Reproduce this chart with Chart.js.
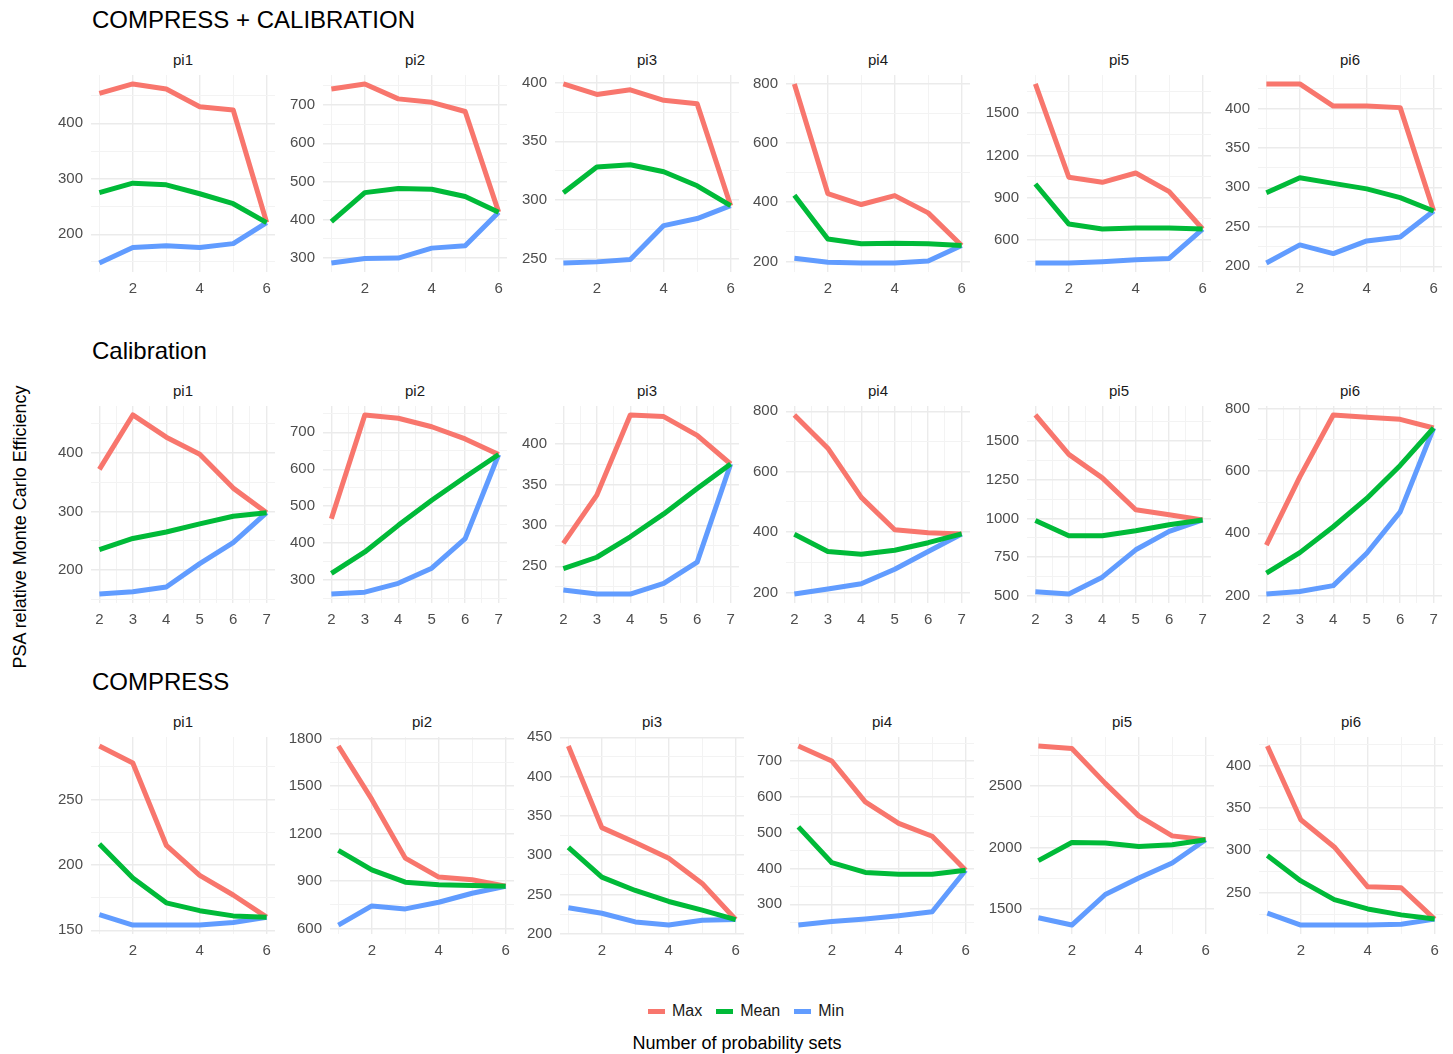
<!DOCTYPE html>
<html>
<head>
<meta charset="utf-8">
<script src="https://cdn.jsdelivr.net/npm/chart.js@4.4.0/dist/chart.umd.min.js"></script>
<style>
body { margin:0; background:#fff; font-family:"Liberation Sans", Arial, sans-serif; }
#page { position:relative; width:1453px; height:1054px; overflow:hidden; background:#fff; }
.rowTitle { position:absolute; left:92px; font-size:24px; line-height:28px; color:#000; white-space:nowrap; }
.strip { position:absolute; font-size:15px; line-height:18px; color:#1a1a1a; text-align:center; }
.panel { position:absolute; }
#ylab { position:absolute; left:20px; top:527px; font-size:18px; color:#000; white-space:nowrap;
        transform:translate(-50%,-50%) rotate(-90deg); }
#xlab { position:absolute; left:737px; top:1043px; font-size:18px; color:#000; white-space:nowrap;
        transform:translate(-50%,-50%); }
#legend { position:absolute; left:648px; top:1001px; height:20px; display:flex; align-items:center;
          font-size:16px; color:#1a1a1a; }
#legend .key { width:17px; height:5px; margin-right:7px; }
#legend .lbl { margin-right:14px; }
</style>
</head>
<body>
<div id="page">
  <div id="ylab">PSA relative Monte Carlo Efficiency</div>
  <div id="xlab">Number of probability sets</div>
  <div id="legend"></div>
</div>
<script>
// facets + rows
var panelNames = ['pi1', 'pi2', 'pi3', 'pi4', 'pi5', 'pi6'];
var rowTitles = ['COMPRESS + CALIBRATION', 'Calibration', 'COMPRESS'];
var seriesNames = ['Max', 'Mean', 'Min'];
var seriesColors = ['#F8766D', '#00BA38', '#619CFF'];

// number of probability sets (x)
var setsCompCal = [1, 2, 3, 4, 5, 6];
var setsCal = [2, 3, 4, 5, 6, 7];
var setsComp = [1, 2, 3, 4, 5, 6];

// COMPRESS + CALIBRATION, one array per panel pi1..pi6
var ccMax = [
  [454, 471, 462, 430, 424, 221],
  [742, 755, 716, 707, 683, 420],
  [399, 390, 394, 385, 382, 295],
  [798, 429, 392, 422, 364, 254],
  [1706, 1045, 1009, 1075, 943, 678],
  [431, 431, 403, 403, 401, 270]
];
var ccMean = [
  [275, 292, 289, 273, 255, 221],
  [395, 471, 482, 480, 461, 420],
  [306, 328, 330, 324, 312, 295],
  [423, 276, 260, 262, 260, 254],
  [997, 713, 678, 685, 685, 678],
  [293, 312, 305, 298, 287, 270]
];
var ccMin = [
  [148, 176, 179, 176, 183, 221],
  [287, 299, 300, 326, 332, 420],
  [246, 247, 249, 278, 284, 295],
  [211, 198, 195, 195, 202, 254],
  [437, 437, 446, 460, 470, 678],
  [204, 227, 216, 232, 237, 270]
];

// Calibration
var calMax = [
  [372, 465, 427, 398, 340, 298],
  [466, 747, 738, 715, 682, 640],
  [278, 337, 435, 433, 410, 375],
  [788, 678, 515, 408, 398, 394],
  [1669, 1414, 1262, 1056, 1024, 990],
  [362, 581, 780, 773, 766, 738]
];
var calMean = [
  [235, 254, 265, 279, 292, 298],
  [318, 376, 448, 516, 579, 640],
  [247, 261, 286, 314, 345, 375],
  [393, 336, 327, 340, 365, 394],
  [987, 888, 888, 920, 959, 990],
  [272, 338, 421, 512, 618, 738]
];
var calMin = [
  [159, 163, 171, 211, 247, 298],
  [262, 267, 291, 332, 412, 640],
  [221, 216, 216, 229, 255, 375],
  [195, 212, 229, 277, 336, 394],
  [526, 511, 620, 797, 916, 990],
  [205, 213, 232, 336, 469, 738]
];

// COMPRESS
var compMax = [
  [291, 278, 215, 192, 177, 160],
  [1753, 1415, 1044, 924, 907, 866],
  [439, 335, 316, 296, 264, 218],
  [742, 700, 586, 526, 490, 395],
  [2827, 2806, 2522, 2257, 2094, 2062],
  [423, 336, 304, 257, 256, 219]
];
var compMean = [
  [216, 190, 171, 165, 161, 160],
  [1093, 970, 892, 875, 871, 866],
  [310, 272, 255, 241, 230, 218],
  [516, 416, 389, 384, 384, 395],
  [1892, 2040, 2035, 2008, 2022, 2062],
  [294, 264, 242, 231, 224, 219]
];
var compMin = [
  [162, 154, 154, 154, 156, 160],
  [621, 742, 723, 765, 822, 866],
  [233, 226, 215, 211, 217, 218],
  [242, 252, 259, 268, 279, 395],
  [1427, 1367, 1616, 1751, 1873, 2062],
  [226, 212, 212, 212, 213, 219]
];

// y axis break steps per panel, x break step per row
var ccStep = [100, 100, 50, 200, 300, 50];
var calStep = [100, 100, 50, 200, 250, 200];
var compStep = [50, 300, 50, 100, 500, 50];
var xSteps = [2, 1, 2];

// layout
var PLOT_W = 184, PLOT_H = 197, AXIS_W = 50, XAXIS_H = 30, PAD_T = 10, PAD_R = 10;
var rowTop = [75, 406, 737];
var colLeft = [
  [91, 323, 555, 786, 1027, 1258],
  [91, 323, 555, 786, 1027, 1258],
  [91, 330, 560, 790, 1030, 1259]
];
var FONT = '"Liberation Sans", Arial, sans-serif';

var page = document.getElementById('page');

function breaks(lo, hi, step) {
  var out = [];
  for (var k = Math.ceil(lo / step - 1e-9); k * step <= hi + 1e-9; k++) {
    out.push(Math.round(k * step * 1000) / 1000);
  }
  return out;
}
function isMajor(v, step) {
  return Math.abs(v / step - Math.round(v / step)) < 1e-6;
}
function gridOpts(step) {
  return {
    drawTicks: false,
    color: function(c) { return isMajor(c.tick.value, step) ? '#EBEBEB' : '#F3F3F3'; },
    lineWidth: function(c) { return isMajor(c.tick.value, step) ? 1.4 : 1; }
  };
}

function makePanel(row, col, xs, maxs, means, mins, yStep, xStep) {
  var left = colLeft[row][col], top = rowTop[row];

  var strip = document.createElement('div');
  strip.className = 'strip';
  strip.style.left = left + 'px';
  strip.style.width = PLOT_W + 'px';
  strip.style.top = (top - 24) + 'px';
  strip.textContent = panelNames[col];
  page.appendChild(strip);

  var wrap = document.createElement('div');
  wrap.className = 'panel';
  var ww = AXIS_W + PLOT_W + PAD_R, wh = PAD_T + PLOT_H + XAXIS_H;
  wrap.style.left = (left - AXIS_W) + 'px';
  wrap.style.top = (top - PAD_T) + 'px';
  wrap.style.width = ww + 'px';
  wrap.style.height = wh + 'px';
  var cv = document.createElement('canvas');
  wrap.appendChild(cv);
  page.appendChild(wrap);

  var all = maxs.concat(means, mins);
  var lo = Math.min.apply(null, all), hi = Math.max.apply(null, all);
  var ypad = (hi - lo) * 0.05;
  var xlo = xs[0], xhi = xs[xs.length - 1], xpad = (xhi - xlo) * 0.05;

  var sets = [maxs, means, mins];
  var order = [2, 0, 1];
  var datasets = sets.map(function(vals, i) {
    return {
      label: seriesNames[i],
      data: vals.map(function(v, j) { return { x: xs[j], y: v }; }),
      borderColor: seriesColors[i],
      backgroundColor: seriesColors[i],
      order: order[i]
    };
  });

  var chart = new Chart(cv, {
    type: 'line',
    data: { datasets: datasets },
    options: {
      responsive: true,
      maintainAspectRatio: false,
      animation: false,
      layout: { padding: { top: PAD_T, right: PAD_R, left: 0, bottom: 0 } },
      plugins: { legend: { display: false }, tooltip: { enabled: false } },
      elements: {
        point: { radius: 0 },
        line: { tension: 0, borderWidth: 5, borderCapStyle: 'butt', borderJoinStyle: 'round' }
      },
      scales: {
        x: {
          type: 'linear',
          min: xlo - xpad, max: xhi + xpad,
          border: { display: false },
          grid: gridOpts(xStep),
          afterBuildTicks: function(s) {
            s.ticks = breaks(s.min, s.max, xStep / 2).map(function(v) { return { value: v }; });
          },
          afterFit: function(s) { s.height = XAXIS_H; },
          ticks: {
            autoSkip: false, maxRotation: 0, padding: 8,
            color: '#4D4D4D', font: { size: 15, family: FONT },
            callback: function(v) { return isMajor(v, xStep) ? String(v) : ''; }
          }
        },
        y: {
          min: lo - ypad, max: hi + ypad,
          border: { display: false },
          grid: gridOpts(yStep),
          afterBuildTicks: function(s) {
            s.ticks = breaks(s.min, s.max, yStep / 2).map(function(v) { return { value: v }; });
          },
          afterFit: function(s) { s.width = AXIS_W; },
          ticks: {
            autoSkip: false, padding: 8,
            color: '#4D4D4D', font: { size: 15, family: FONT },
            callback: function(v) { return isMajor(v, yStep) ? String(v) : ''; }
          }
        }
      }
    }
  });

  // make the plotting area exactly PLOT_W x PLOT_H at (left, top)
  var ca = chart.chartArea;
  ww += PLOT_W - (ca.right - ca.left);
  wh += PLOT_H - (ca.bottom - ca.top);
  wrap.style.width = ww + 'px';
  wrap.style.height = wh + 'px';
  chart.resize();
  ca = chart.chartArea;
  wrap.style.left = (left - ca.left) + 'px';
  wrap.style.top = (top - ca.top) + 'px';
}

var rows = [
  { xs: setsCompCal, max: ccMax, mean: ccMean, min: ccMin, step: ccStep },
  { xs: setsCal, max: calMax, mean: calMean, min: calMin, step: calStep },
  { xs: setsComp, max: compMax, mean: compMean, min: compMin, step: compStep }
];

rows.forEach(function(r, ri) {
  var t = document.createElement('div');
  t.className = 'rowTitle';
  t.style.top = (rowTop[ri] - 69) + 'px';
  t.textContent = rowTitles[ri];
  page.appendChild(t);
  for (var c = 0; c < panelNames.length; c++) {
    makePanel(ri, c, r.xs, r.max[c], r.mean[c], r.min[c], r.step[c], xSteps[ri]);
  }
});

// legend
var leg = document.getElementById('legend');
seriesNames.forEach(function(n, i) {
  var k = document.createElement('span');
  k.className = 'key';
  k.style.background = seriesColors[i];
  var l = document.createElement('span');
  l.className = 'lbl';
  l.textContent = n;
  leg.appendChild(k);
  leg.appendChild(l);
});
</script>
</body>
</html>
